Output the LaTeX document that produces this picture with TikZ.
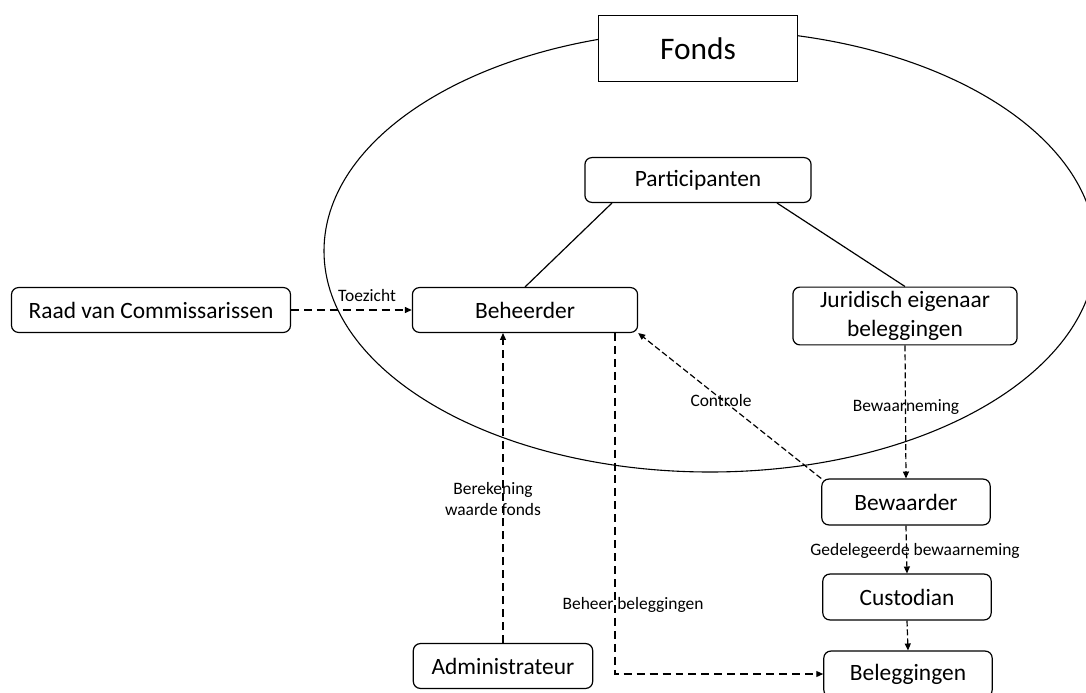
\documentclass[tikz,border=0pt]{standalone}
\usepackage{fontspec}
\setmainfont{Carlito}
\usetikzlibrary{arrows.meta,calc}

\tikzstyle{every node}+=[inner sep=0pt]
\tikzstyle{box}=[draw, rounded corners=7, line width=1.2, fill=white, font=\fontsize{23.5}{29}\selectfont, align=center]
\tikzstyle{lbl}=[font=\fontsize{17.5}{22}\selectfont, align=center]
\tikzstyle{dashlong}=[line width=1.2, dash pattern=on 8 off 5, -{Triangle[length=7,width=6]}]
\tikzstyle{dashshort}=[line width=1.2, dash pattern=on 6 off 3, -{Triangle[length=7,width=6]}]

\begin{document}
\begin{tikzpicture}[x=1bp,y=-1bp]
\clip (0,0) rectangle (1086,693);

% the fund
\draw [line width=1.1] (710,251) ellipse (386 and 221);
\node [draw, line width=1.2, fill=white, minimum width=200, minimum height=67,
       font=\fontsize{31.5}{36}\selectfont] (fonds) at (698,48.5) {Fonds};

\node [box, minimum width=227, minimum height=45] (participanten) at (698,180) {Participanten};
\node [box, minimum width=226, minimum height=45] (beheerder) at (525,310) {Beheerder};
\node [box, minimum width=225, minimum height=58] (juridisch) at (905,316) {Juridisch eigenaar\\beleggingen};
\node [box, minimum width=280, minimum height=45] (raad) at (151,310) {Raad van Commissarissen};
\node [box, minimum width=169, minimum height=46] (bewaarder) at (906,502) {Bewaarder};
\node [box, minimum width=169, minimum height=46] (custodian) at (907,597) {Custodian};
\node [box, minimum width=169, minimum height=46] (beleggingen) at (908,674) {Beleggingen};
\node [box, minimum width=180, minimum height=45] (administrateur) at (503,666) {Administrateur};

\draw [line width=1.2] ($(participanten.south)+(-86,0)$) -- (beheerder.north);
\draw [line width=1.2] ($(participanten.south)+(79,0)$) -- (juridisch.north);

\draw [dashlong] (raad) -- (beheerder);
\node [lbl] (toezicht) at (367,296) {Toezicht};

\draw [dashlong] (administrateur.north) -- (administrateur.north |- beheerder.south);
\node [lbl] (berekening) at (493,499) {Berekening\\waarde fonds};

\draw [dashlong] ($(beheerder.south)+(90,0)$) |- (beleggingen.west);
\node [lbl] (beheer) at (633,605) {Beheer beleggingen};

\draw [dashshort] (bewaarder.north west) -- (beheerder.south east);
\node [lbl] (controle) at (721,401) {Controle};

\draw [dashshort] (juridisch.south) -- (bewaarder.north);
\node [lbl] (bewaarneming) at (906,407) {Bewaarneming};

\draw [dashshort] (bewaarder.south) -- (custodian.north);
\node [lbl] (gedelegeerd) at (915,551) {Gedelegeerde bewaarneming};

\draw [dashshort] (custodian.south) -- (beleggingen.north);
\end{tikzpicture}
\end{document}
